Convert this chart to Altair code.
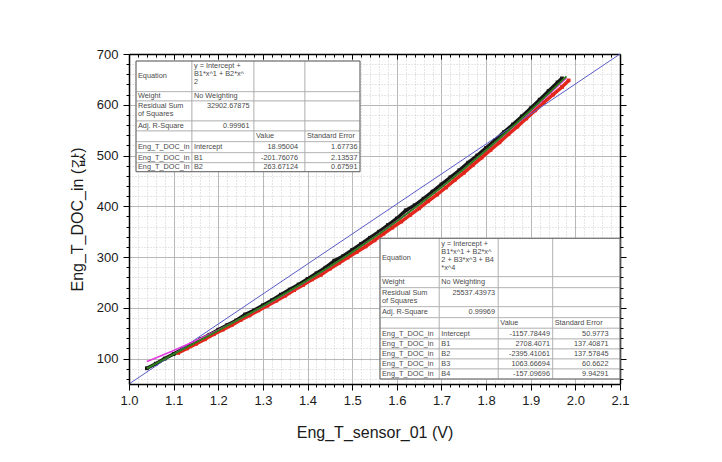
import altair as alt
import pandas as pd

# ---------------- data ----------------
black_x = [1.04, 1.06, 1.08, 1.10, 1.12, 1.14, 1.16, 1.18, 1.20, 1.22, 1.24, 1.26, 1.28, 1.30,
           1.32, 1.34, 1.36, 1.38, 1.40, 1.42, 1.44, 1.46, 1.48, 1.50, 1.52, 1.54, 1.56, 1.58,
           1.60, 1.62, 1.64, 1.66, 1.68, 1.70, 1.72, 1.74, 1.76, 1.78, 1.80, 1.82, 1.84, 1.86,
           1.88, 1.90, 1.92, 1.94, 1.96, 1.97]
black_y = [81, 90, 100, 109, 119, 128, 138, 147, 157, 166, 175, 187, 195, 205,
           215, 226, 236, 246, 257, 268, 279, 293, 302, 314, 326, 338, 350, 363,
           376, 392, 402, 415, 429, 443, 457, 471, 486, 500, 515, 530, 546, 561,
           577, 593, 610, 627, 644, 652]

red_x = [1.11, 1.13, 1.15, 1.17, 1.19, 1.21, 1.23, 1.25, 1.27, 1.29, 1.31, 1.33, 1.35, 1.37,
         1.39, 1.41, 1.43, 1.45, 1.47, 1.49, 1.51, 1.53, 1.55, 1.57, 1.59, 1.61, 1.63, 1.65,
         1.67, 1.69, 1.71, 1.73, 1.75, 1.77, 1.79, 1.81, 1.83, 1.85, 1.87, 1.89, 1.91, 1.93,
         1.95, 1.97, 1.985]
red_y = [111, 120, 129, 138, 148, 157, 166, 176, 185, 195, 204, 214, 224, 235,
         245, 256, 265, 277, 288, 299, 310, 321, 333, 346, 358, 370, 383, 396,
         410, 423, 437, 452, 466, 481, 496, 511, 526, 542, 557, 573, 589, 605,
         620, 635, 648]

fit4_x = [1.04, 1.10, 1.20, 1.30, 1.40, 1.50, 1.60, 1.70, 1.80, 1.90, 1.98]
fit4_y = [80.8, 108.8, 155.2, 203.1, 254.2, 309.7, 370.6, 437.5, 510.4, 589.1, 655.9]

fit2_x = [1.04, 1.10, 1.20, 1.30, 1.40, 1.50, 1.60, 1.70, 1.80, 1.90, 1.98]
fit2_y = [94.3, 116.1, 156.5, 202.3, 253.3, 309.6, 371.1, 438.0, 510.1, 587.5, 653.1]

ref_x = [1.0, 2.1]
ref_y = [50, 700]

x_major = [1.0, 1.1, 1.2, 1.3, 1.4, 1.5, 1.6, 1.7, 1.8, 1.9, 2.0, 2.1]
x_inner = [1.1, 1.2, 1.3, 1.4, 1.5, 1.6, 1.7, 1.8, 1.9, 2.0]
x_minor = [round(1.0 + 0.02 * i, 2) for i in range(1, 55) if i % 5]
y_major = [100, 200, 300, 400, 500, 600, 700]
y_inner = [100, 200, 300, 400, 500, 600]
y_minor = [v for v in range(60, 700, 20) if v % 100]

table1_cells = [
    (0, 0, "Equation", "lm"), (0, 1, "y = Intercept +\nB1*x^1 + B2*x^\n2", "lt"),
    (1, 0, "Weight", "lm"), (1, 1, "No Weighting", "lm"),
    (2, 0, "Residual Sum\nof Squares", "lt"), (2, 1, "32902.67875", "rt"),
    (3, 0, "Adj. R-Square", "lm"), (3, 1, "0.99961", "rm"),
    (4, 2, "Value", "lm"), (4, 3, "Standard Error", "lm"),
    (5, 0, "Eng_T_DOC_in", "lm"), (5, 1, "Intercept", "lm"), (5, 2, "18.95004", "rm"), (5, 3, "1.67736", "rm"),
    (6, 0, "Eng_T_DOC_in", "lm"), (6, 1, "B1", "lm"), (6, 2, "-201.76076", "rm"), (6, 3, "2.13537", "rm"),
    (7, 0, "Eng_T_DOC_in", "lm"), (7, 1, "B2", "lm"), (7, 2, "263.67124", "rm"), (7, 3, "0.67591", "rm"),
]
table2_cells = [
    (0, 0, "Equation", "lm"), (0, 1, "y = Intercept +\nB1*x^1 + B2*x^\n2 + B3*x^3 + B4\n*x^4", "lt"),
    (1, 0, "Weight", "lm"), (1, 1, "No Weighting", "lm"),
    (2, 0, "Residual Sum\nof Squares", "lt"), (2, 1, "25537.43973", "rt"),
    (3, 0, "Adj. R-Square", "lm"), (3, 1, "0.99969", "rm"),
    (4, 2, "Value", "lm"), (4, 3, "Standard Error", "lm"),
    (5, 0, "Eng_T_DOC_in", "lm"), (5, 1, "Intercept", "lm"), (5, 2, "-1157.78449", "rm"), (5, 3, "50.9773", "rm"),
    (6, 0, "Eng_T_DOC_in", "lm"), (6, 1, "B1", "lm"), (6, 2, "2708.4071", "rm"), (6, 3, "137.40871", "rm"),
    (7, 0, "Eng_T_DOC_in", "lm"), (7, 1, "B2", "lm"), (7, 2, "-2395.41061", "rm"), (7, 3, "137.57845", "rm"),
    (8, 0, "Eng_T_DOC_in", "lm"), (8, 1, "B3", "lm"), (8, 2, "1063.66694", "rm"), (8, 3, "60.6622", "rm"),
    (9, 0, "Eng_T_DOC_in", "lm"), (9, 1, "B4", "lm"), (9, 2, "-157.09696", "rm"), (9, 3, "9.94291", "rm"),
]

# ---------------- layout ----------------
PLOT_L, PLOT_T, W, H = 129.0, 54.0, 491, 330
XMIN, XMAX, YMIN, YMAX = 1.0, 2.1, 50, 700
T1_COLS = [136, 192, 254, 305, 360]
T1_ROWS = [61, 91.7, 101, 121, 131, 141.7, 152.7, 162.7, 171.7]
T1_PADS = [2, 4.5, 7, 2.5]
T2_COLS = [380, 439.3, 498.3, 552.7, 620]
T2_ROWS = [238.3, 276.7, 287.7, 306.7, 317.7, 328.3, 339, 349, 359, 369, 379]
T2_PADS = [2, 3.3, 2.7, 11.5]


def dx(px):
    return XMIN + (px - PLOT_L) * (XMAX - XMIN) / W


def dy(py):
    return YMIN + (PLOT_T + H - py) * (YMAX - YMIN) / H


cells, borders, texts = [], [], []
for cols, rows, spec, pads in [(T1_COLS, T1_ROWS, table1_cells, T1_PADS),
                               (T2_COLS, T2_ROWS, table2_cells, T2_PADS)]:
    for r in range(len(rows) - 1):
        for c in range(len(cols) - 1):
            cells.append(dict(x=dx(cols[c]), x2=dx(cols[c + 1]), y=dy(rows[r]), y2=dy(rows[r + 1])))
    borders.append(dict(x=dx(cols[0]), x2=dx(cols[-1]), y=dy(rows[0]), y2=dy(rows[-1])))
    for r, c, t, mode in spec:
        px = cols[c] + 2 if mode[0] == "l" else cols[c + 1] - pads[c]
        py = (rows[r] + rows[r + 1]) / 2 if mode[1] == "m" else rows[r] + 1.2
        texts.append(dict(x=dx(px), y=dy(py), t=t, mode=mode))

cells_df = pd.DataFrame(cells)
border_df = pd.DataFrame(borders)
text_df = pd.DataFrame(texts)

xs = alt.Scale(domain=[XMIN, XMAX], nice=False, zero=False)
ys = alt.Scale(domain=[YMIN, YMAX], nice=False, zero=False)

GRID_MAJ = "#b8b8b8"
GRID_MIN = "#cccccc"


def ax(orient, values, **kw):
    base = dict(orient=orient, values=values, labels=False, ticks=False, domain=False,
                grid=False, title=None, tickColor="black", domainColor="black",
                tickWidth=1, domainWidth=1.5)
    base.update(kw)
    return alt.Axis(**base)


X1 = ax("bottom", x_major, labels=True, ticks=True, tickSize=6, domain=True,
        title="Eng_T_sensor_01 (V)", zindex=1, labelFlush=False, format=".1f",
        labelPadding=4, titlePadding=17)
X2 = ax("bottom", x_minor, ticks=True, tickSize=3, grid=True, gridColor=GRID_MIN,
        gridDash=[1, 2], zindex=0)
X3 = ax("top", x_inner, domain=True, grid=True, gridColor=GRID_MAJ, zindex=0)
X4 = ax("top", x_major, ticks=True, tickSize=5, offset=-5, zindex=1)
X5 = ax("top", x_minor, ticks=True, tickSize=3, offset=-3, zindex=1)

Y1 = ax("left", y_major, labels=True, ticks=True, tickSize=6, domain=True,
        title="Eng_T_DOC_in (값)", zindex=1, labelPadding=5, titlePadding=11, format="d")
Y2 = ax("left", y_minor, ticks=True, tickSize=3, grid=True, gridColor=GRID_MIN,
        gridDash=[1, 2], zindex=0)
Y3 = ax("right", y_inner, ticks=True, tickSize=6, domain=True, grid=True,
        gridColor=GRID_MAJ, zindex=0)
Y4 = ax("right", y_minor, ticks=True, tickSize=3, zindex=1)

ref_df = pd.DataFrame({"x": ref_x, "y": ref_y})
fit2_df = pd.DataFrame({"x": fit2_x, "y": fit2_y})
fit4_df = pd.DataFrame({"x": fit4_x, "y": fit4_y})
black_df = pd.DataFrame({"x": black_x, "y": black_y})
red_df = pd.DataFrame({"x": red_x, "y": red_y})


def enc(xaxis=None, yaxis=None):
    return dict(x=alt.X("x:Q", scale=xs, axis=xaxis), y=alt.Y("y:Q", scale=ys, axis=yaxis))


black_line = alt.Chart(black_df).mark_line(color="#151515", strokeWidth=3.5).encode(**enc(X3, Y3))
black_pts = alt.Chart(black_df).mark_point(shape="square", filled=True, size=14,
                                           color="#151515", opacity=1).encode(**enc())
red_line = alt.Chart(red_df).mark_line(color="#e3261c", strokeWidth=3.5).encode(**enc(X4, Y4))
red_pts = alt.Chart(red_df).mark_point(shape="square", filled=True, size=14,
                                       color="#e3261c", opacity=1).encode(**enc())
ref_line = alt.Chart(ref_df).mark_line(color="#5a5ac8", strokeWidth=1).encode(**enc(X1, Y1))
fit2_line = alt.Chart(fit2_df).mark_line(color="#e33be0", strokeWidth=1.6,
                                         interpolate="monotone").encode(**enc(X2, Y2))
fit4_line = alt.Chart(fit4_df).mark_line(color="#2f7d1c", strokeWidth=2,
                                         interpolate="monotone").encode(**enc(X5))

cell_rects = alt.Chart(cells_df).mark_rect(fill="white", stroke="#a8a8a8", strokeWidth=0.7).encode(
    x=alt.X("x:Q", scale=xs, axis=None), x2="x2:Q",
    y=alt.Y("y:Q", scale=ys, axis=None), y2="y2:Q")
border_rects = alt.Chart(border_df).mark_rect(fill=None, stroke="#6a6a6a", strokeWidth=1).encode(
    x=alt.X("x:Q", scale=xs, axis=None), x2="x2:Q",
    y=alt.Y("y:Q", scale=ys, axis=None), y2="y2:Q")

text_layers = []
for mode, align, baseline in [("lm", "left", "middle"), ("lt", "left", "top"),
                              ("rm", "right", "middle"), ("rt", "right", "top")]:
    sub = text_df[text_df["mode"] == mode]
    text_layers.append(
        alt.Chart(sub).mark_text(align=align, baseline=baseline, font="Liberation Sans",
                                 fontSize=7.3, color="#4a4a4a", lineBreak="\n",
                                 lineHeight=8).encode(
            x=alt.X("x:Q", scale=xs, axis=None), y=alt.Y("y:Q", scale=ys, axis=None),
            text="t:N"))

chart = alt.layer(
    black_line, black_pts, red_line, red_pts, ref_line, fit2_line, fit4_line,
    cell_rects, border_rects, *text_layers
).resolve_axis(x="independent", y="independent").properties(
    width=W, height=H,
    autosize=alt.AutoSizeParams(type="none"),
    padding={"left": 121, "top": 46, "right": 90, "bottom": 60},
).configure_view(stroke=None).configure_axis(
    labelFont="Liberation Sans", labelFontSize=13, labelColor="#1a1a1a",
    titleFont="Liberation Sans", titleFontSize=16, titleFontWeight="normal",
    titleColor="#1a1a1a",
)

chart.save("out.html", embed_options={"renderer": "svg", "actions": False})
